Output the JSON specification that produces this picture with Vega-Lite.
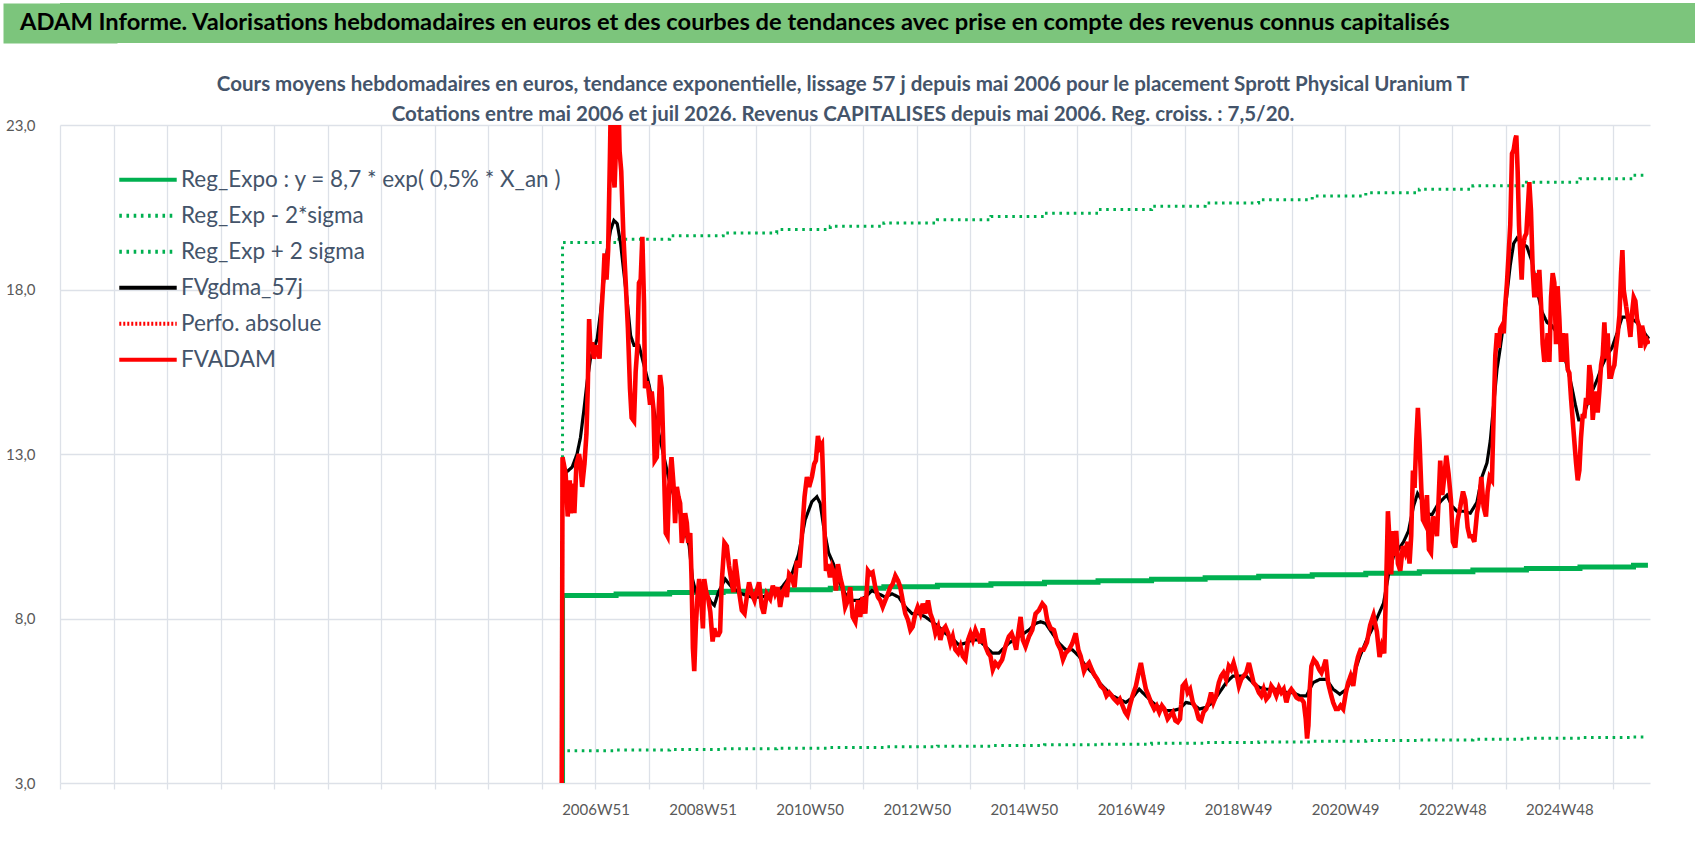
{
  "$schema": "https://vega.github.io/schema/vega-lite/v6.json",
  "background": "white",
  "padding": {"left": 3, "top": 3, "right": 3, "bottom": 3},
  "spacing": 31,
  "config": {
    "font": "Lato",
    "view": {"stroke": null},
    "axis": {
      "gridColor": "#DDE1E8",
      "gridWidth": 1.3,
      "labelColor": "#595959",
      "labelFontSize": 15,
      "domain": false,
      "title": null
    }
  },
  "datasets": {
    "regexpo": [
      {"series": "Reg_Expo : y = 8,7 * exp( 0,5% *  X_an )", "week": -33, "value": 0},
      {"series": "Reg_Expo : y = 8,7 * exp( 0,5% *  X_an )", "week": -32, "value": 8.70},
      {"series": "Reg_Expo : y = 8,7 * exp( 0,5% *  X_an )", "week": 20, "value": 8.744},
      {"series": "Reg_Expo : y = 8,7 * exp( 0,5% *  X_an )", "week": 72, "value": 8.788},
      {"series": "Reg_Expo : y = 8,7 * exp( 0,5% *  X_an )", "week": 124, "value": 8.832},
      {"series": "Reg_Expo : y = 8,7 * exp( 0,5% *  X_an )", "week": 176, "value": 8.876},
      {"series": "Reg_Expo : y = 8,7 * exp( 0,5% *  X_an )", "week": 228, "value": 8.920},
      {"series": "Reg_Expo : y = 8,7 * exp( 0,5% *  X_an )", "week": 280, "value": 8.965},
      {"series": "Reg_Expo : y = 8,7 * exp( 0,5% *  X_an )", "week": 332, "value": 9.010},
      {"series": "Reg_Expo : y = 8,7 * exp( 0,5% *  X_an )", "week": 384, "value": 9.055},
      {"series": "Reg_Expo : y = 8,7 * exp( 0,5% *  X_an )", "week": 436, "value": 9.100},
      {"series": "Reg_Expo : y = 8,7 * exp( 0,5% *  X_an )", "week": 488, "value": 9.146},
      {"series": "Reg_Expo : y = 8,7 * exp( 0,5% *  X_an )", "week": 540, "value": 9.192},
      {"series": "Reg_Expo : y = 8,7 * exp( 0,5% *  X_an )", "week": 592, "value": 9.238},
      {"series": "Reg_Expo : y = 8,7 * exp( 0,5% *  X_an )", "week": 644, "value": 9.284},
      {"series": "Reg_Expo : y = 8,7 * exp( 0,5% *  X_an )", "week": 696, "value": 9.331},
      {"series": "Reg_Expo : y = 8,7 * exp( 0,5% *  X_an )", "week": 748, "value": 9.377},
      {"series": "Reg_Expo : y = 8,7 * exp( 0,5% *  X_an )", "week": 800, "value": 9.424},
      {"series": "Reg_Expo : y = 8,7 * exp( 0,5% *  X_an )", "week": 852, "value": 9.472},
      {"series": "Reg_Expo : y = 8,7 * exp( 0,5% *  X_an )", "week": 904, "value": 9.519},
      {"series": "Reg_Expo : y = 8,7 * exp( 0,5% *  X_an )", "week": 956, "value": 9.567},
      {"series": "Reg_Expo : y = 8,7 * exp( 0,5% *  X_an )", "week": 1008, "value": 9.615},
      {"series": "Reg_Expo : y = 8,7 * exp( 0,5% *  X_an )", "week": 1022, "value": 9.615}
    ],
    "bands": [
      {"series": "Reg_Exp - 2*sigma", "week": -33, "value": 0},
      {"series": "Reg_Exp - 2*sigma", "week": -32, "value": 3.98},
      {"series": "Reg_Exp - 2*sigma", "week": 20, "value": 4.00},
      {"series": "Reg_Exp - 2*sigma", "week": 72, "value": 4.02},
      {"series": "Reg_Exp - 2*sigma", "week": 124, "value": 4.04},
      {"series": "Reg_Exp - 2*sigma", "week": 176, "value": 4.06},
      {"series": "Reg_Exp - 2*sigma", "week": 228, "value": 4.08},
      {"series": "Reg_Exp - 2*sigma", "week": 280, "value": 4.10},
      {"series": "Reg_Exp - 2*sigma", "week": 332, "value": 4.12},
      {"series": "Reg_Exp - 2*sigma", "week": 384, "value": 4.14},
      {"series": "Reg_Exp - 2*sigma", "week": 436, "value": 4.16},
      {"series": "Reg_Exp - 2*sigma", "week": 488, "value": 4.18},
      {"series": "Reg_Exp - 2*sigma", "week": 540, "value": 4.21},
      {"series": "Reg_Exp - 2*sigma", "week": 592, "value": 4.23},
      {"series": "Reg_Exp - 2*sigma", "week": 644, "value": 4.25},
      {"series": "Reg_Exp - 2*sigma", "week": 696, "value": 4.27},
      {"series": "Reg_Exp - 2*sigma", "week": 748, "value": 4.29},
      {"series": "Reg_Exp - 2*sigma", "week": 800, "value": 4.31},
      {"series": "Reg_Exp - 2*sigma", "week": 852, "value": 4.33},
      {"series": "Reg_Exp - 2*sigma", "week": 904, "value": 4.36},
      {"series": "Reg_Exp - 2*sigma", "week": 956, "value": 4.38},
      {"series": "Reg_Exp - 2*sigma", "week": 1008, "value": 4.40},
      {"series": "Reg_Exp - 2*sigma", "week": 1022, "value": 4.40},
      {"series": "Reg_Exp + 2 sigma", "week": -33, "value": 0},
      {"series": "Reg_Exp + 2 sigma", "week": -32, "value": 19.43},
      {"series": "Reg_Exp + 2 sigma", "week": 20, "value": 19.53},
      {"series": "Reg_Exp + 2 sigma", "week": 72, "value": 19.63},
      {"series": "Reg_Exp + 2 sigma", "week": 124, "value": 19.72},
      {"series": "Reg_Exp + 2 sigma", "week": 176, "value": 19.82},
      {"series": "Reg_Exp + 2 sigma", "week": 228, "value": 19.92},
      {"series": "Reg_Exp + 2 sigma", "week": 280, "value": 20.02},
      {"series": "Reg_Exp + 2 sigma", "week": 332, "value": 20.12},
      {"series": "Reg_Exp + 2 sigma", "week": 384, "value": 20.22},
      {"series": "Reg_Exp + 2 sigma", "week": 436, "value": 20.32},
      {"series": "Reg_Exp + 2 sigma", "week": 488, "value": 20.43},
      {"series": "Reg_Exp + 2 sigma", "week": 540, "value": 20.53},
      {"series": "Reg_Exp + 2 sigma", "week": 592, "value": 20.63},
      {"series": "Reg_Exp + 2 sigma", "week": 644, "value": 20.73},
      {"series": "Reg_Exp + 2 sigma", "week": 696, "value": 20.84},
      {"series": "Reg_Exp + 2 sigma", "week": 748, "value": 20.94},
      {"series": "Reg_Exp + 2 sigma", "week": 800, "value": 21.05},
      {"series": "Reg_Exp + 2 sigma", "week": 852, "value": 21.15},
      {"series": "Reg_Exp + 2 sigma", "week": 904, "value": 21.26},
      {"series": "Reg_Exp + 2 sigma", "week": 956, "value": 21.37},
      {"series": "Reg_Exp + 2 sigma", "week": 1008, "value": 21.47},
      {"series": "Reg_Exp + 2 sigma", "week": 1022, "value": 21.47}
    ],
    "gdma": [
      {"week": -30, "value": 12.4}, {"week": -22.7, "value": 12.6}, {"week": -17.9, "value": 13.0},
      {"week": -14.6, "value": 13.5}, {"week": -11.4, "value": 14.3}, {"week": -8.1, "value": 15.2},
      {"week": -4.9, "value": 15.9}, {"week": -1.6, "value": 16.2}, {"week": 1.6, "value": 16.5},
      {"week": 4.9, "value": 17.3}, {"week": 8.1, "value": 18.3}, {"week": 11.4, "value": 19.2},
      {"week": 14.6, "value": 19.8}, {"week": 17.9, "value": 20.1}, {"week": 21.1, "value": 20.0},
      {"week": 24.4, "value": 19.4}, {"week": 27.6, "value": 18.5}, {"week": 30.9, "value": 17.6},
      {"week": 34.1, "value": 16.6}, {"week": 37.4, "value": 16.3}, {"week": 42.2, "value": 16.3},
      {"week": 47.1, "value": 15.7}, {"week": 52, "value": 15.1}, {"week": 56.9, "value": 14.3},
      {"week": 61.7, "value": 13.6}, {"week": 66.6, "value": 12.9}, {"week": 71.5, "value": 12.2},
      {"week": 76.4, "value": 11.7}, {"week": 81.2, "value": 11.3}, {"week": 86.1, "value": 10.8},
      {"week": 91, "value": 10.2}, {"week": 94.2, "value": 9.2}, {"week": 97.5, "value": 8.8},
      {"week": 102.4, "value": 8.7}, {"week": 107.2, "value": 8.8}, {"week": 112.1, "value": 8.5},
      {"week": 115.4, "value": 8.4}, {"week": 119.4, "value": 8.8}, {"week": 125.9, "value": 9.2},
      {"week": 132.3, "value": 8.95}, {"week": 142, "value": 8.75}, {"week": 151.8, "value": 8.65},
      {"week": 161.5, "value": 8.65}, {"week": 171.2, "value": 8.75}, {"week": 181, "value": 8.95},
      {"week": 190.7, "value": 9.35}, {"week": 197.2, "value": 9.95}, {"week": 203.6, "value": 11.0},
      {"week": 210.1, "value": 11.55}, {"week": 215, "value": 11.7}, {"week": 218.2, "value": 11.5},
      {"week": 221.5, "value": 10.8}, {"week": 226.3, "value": 10.0}, {"week": 231.2, "value": 9.65},
      {"week": 236.1, "value": 9.15}, {"week": 242.5, "value": 8.75}, {"week": 249, "value": 8.55},
      {"week": 255.5, "value": 8.55}, {"week": 262, "value": 8.65}, {"week": 268.5, "value": 8.85},
      {"week": 275, "value": 8.75}, {"week": 281.4, "value": 8.65}, {"week": 287.9, "value": 8.75},
      {"week": 294.4, "value": 8.65}, {"week": 300.9, "value": 8.35}, {"week": 307.4, "value": 8.15},
      {"week": 313.8, "value": 8.15}, {"week": 320.3, "value": 8.05}, {"week": 326.8, "value": 7.9},
      {"week": 333.3, "value": 7.75}, {"week": 339.8, "value": 7.55}, {"week": 346.3, "value": 7.4},
      {"week": 352.8, "value": 7.2}, {"week": 359.2, "value": 7.25}, {"week": 365.7, "value": 7.35},
      {"week": 372.2, "value": 7.35}, {"week": 378.7, "value": 7.15}, {"week": 385.2, "value": 6.95},
      {"week": 391.7, "value": 6.95}, {"week": 401.4, "value": 7.25}, {"week": 411.1, "value": 7.45},
      {"week": 420.9, "value": 7.65}, {"week": 427.4, "value": 7.85}, {"week": 432.2, "value": 7.9},
      {"week": 437.1, "value": 7.85}, {"week": 443.6, "value": 7.55}, {"week": 450.1, "value": 7.25},
      {"week": 456.6, "value": 7.05}, {"week": 463.1, "value": 7.05}, {"week": 469.6, "value": 6.85},
      {"week": 476.1, "value": 6.55}, {"week": 482.6, "value": 6.35}, {"week": 489.1, "value": 6.05},
      {"week": 495.5, "value": 5.85}, {"week": 502, "value": 5.65}, {"week": 508.5, "value": 5.55},
      {"week": 515, "value": 5.45}, {"week": 521.5, "value": 5.6}, {"week": 528, "value": 5.85},
      {"week": 534.5, "value": 5.65}, {"week": 541, "value": 5.45}, {"week": 547.5, "value": 5.3},
      {"week": 554, "value": 5.2}, {"week": 560.5, "value": 5.2}, {"week": 567, "value": 5.25},
      {"week": 573.5, "value": 5.45}, {"week": 580, "value": 5.4}, {"week": 586.5, "value": 5.25},
      {"week": 593, "value": 5.3}, {"week": 599.4, "value": 5.45}, {"week": 605.9, "value": 5.75},
      {"week": 612.4, "value": 6.05}, {"week": 618.9, "value": 6.25}, {"week": 625.4, "value": 6.25},
      {"week": 631.9, "value": 6.25}, {"week": 638.4, "value": 6.05}, {"week": 644.9, "value": 5.9},
      {"week": 651.4, "value": 5.85}, {"week": 657.9, "value": 5.85}, {"week": 664.4, "value": 5.85},
      {"week": 670.9, "value": 5.75}, {"week": 677.4, "value": 5.75}, {"week": 683.9, "value": 5.65},
      {"week": 690.4, "value": 5.65}, {"week": 696.8, "value": 6.05}, {"week": 703.3, "value": 6.15},
      {"week": 709.8, "value": 6.15}, {"week": 716.3, "value": 5.85}, {"week": 722.8, "value": 5.7},
      {"week": 729.3, "value": 5.85}, {"week": 735.8, "value": 6.25}, {"week": 742.3, "value": 6.85},
      {"week": 748.8, "value": 7.35}, {"week": 755.3, "value": 7.75}, {"week": 765.3, "value": 8.47},
      {"week": 770.1, "value": 9.34}, {"week": 775, "value": 9.9}, {"week": 779.8, "value": 10.1},
      {"week": 784.7, "value": 10.33}, {"week": 789.5, "value": 10.66}, {"week": 794.4, "value": 11.42},
      {"week": 798.3, "value": 11.8}, {"week": 802.5, "value": 11.6}, {"week": 807.4, "value": 11.2},
      {"week": 812.2, "value": 11.15}, {"week": 817.1, "value": 11.42}, {"week": 821.9, "value": 11.6},
      {"week": 826.8, "value": 11.75}, {"week": 831.7, "value": 11.42}, {"week": 836.5, "value": 11.26},
      {"week": 843, "value": 11.26}, {"week": 849.5, "value": 11.2}, {"week": 855.9, "value": 11.53},
      {"week": 860.8, "value": 12.3}, {"week": 865.7, "value": 12.73}, {"week": 868.9, "value": 13.4},
      {"week": 872.2, "value": 14.5}, {"week": 875.4, "value": 15.57}, {"week": 878.6, "value": 16.23},
      {"week": 881.9, "value": 17.0}, {"week": 885.1, "value": 17.87}, {"week": 888.3, "value": 18.74},
      {"week": 891.6, "value": 19.4}, {"week": 894.8, "value": 19.56}, {"week": 899.7, "value": 19.4},
      {"week": 904.5, "value": 19.3}, {"week": 909.4, "value": 18.85}, {"week": 914.3, "value": 17.98},
      {"week": 919.1, "value": 17.32}, {"week": 924, "value": 17.0}, {"week": 928.8, "value": 16.9},
      {"week": 933.7, "value": 16.67}, {"week": 938.6, "value": 16.23}, {"week": 943.4, "value": 15.68},
      {"week": 948.3, "value": 15.0}, {"week": 951.5, "value": 14.5}, {"week": 954.8, "value": 14.04},
      {"week": 958, "value": 14.04}, {"week": 962.9, "value": 14.5}, {"week": 967.7, "value": 14.9},
      {"week": 972.6, "value": 15.25}, {"week": 977.4, "value": 15.68}, {"week": 982.3, "value": 16.0},
      {"week": 987.1, "value": 16.23}, {"week": 992, "value": 16.67}, {"week": 996.9, "value": 17.16},
      {"week": 1001.7, "value": 17.16}, {"week": 1006.6, "value": 17.1}, {"week": 1011.4, "value": 17.0},
      {"week": 1016.3, "value": 16.78}, {"week": 1022.8, "value": 16.5}
    ],
    "fvadam": [
      {"week": -33, "value": 0}, {"week": -32, "value": 12.9}, {"week": -29, "value": 12.4},
      {"week": -27, "value": 11.1}, {"week": -25, "value": 12.2}, {"week": -24, "value": 11.2},
      {"week": -22, "value": 12.1}, {"week": -20.5, "value": 11.2}, {"week": -18.5, "value": 12.7},
      {"week": -16, "value": 13.0}, {"week": -14.6, "value": 12.7}, {"week": -13, "value": 12.0},
      {"week": -10.7, "value": 12.7}, {"week": -8.8, "value": 13.6}, {"week": -7.5, "value": 15.0},
      {"week": -6.2, "value": 17.1}, {"week": -4.9, "value": 16.2}, {"week": -3.2, "value": 16.4},
      {"week": -1.6, "value": 15.9}, {"week": 1.6, "value": 16.3}, {"week": 3.9, "value": 15.9},
      {"week": 5.8, "value": 17.3}, {"week": 7.5, "value": 18.2}, {"week": 8.8, "value": 19.1},
      {"week": 10.7, "value": 18.3}, {"week": 12.3, "value": 19.2}, {"week": 14.0, "value": 22.0},
      {"week": 15.3, "value": 24.5}, {"week": 16.9, "value": 21.8}, {"week": 18.5, "value": 21.1},
      {"week": 20.1, "value": 22.5}, {"week": 21.8, "value": 24.5}, {"week": 23.4, "value": 22.2},
      {"week": 25.0, "value": 21.6}, {"week": 27.0, "value": 19.7}, {"week": 29.2, "value": 18.3},
      {"week": 31.5, "value": 16.8}, {"week": 33.5, "value": 15.0}, {"week": 35.1, "value": 14.1},
      {"week": 37.4, "value": 14.0}, {"week": 39.0, "value": 15.5}, {"week": 40.6, "value": 16.2},
      {"week": 42.2, "value": 18.2}, {"week": 43.9, "value": 18.3}, {"week": 45.5, "value": 19.6},
      {"week": 47.1, "value": 17.6}, {"week": 48.1, "value": 15.0}, {"week": 49.7, "value": 15.2},
      {"week": 51.3, "value": 15.0}, {"week": 53.0, "value": 14.5}, {"week": 54.6, "value": 14.9},
      {"week": 56.2, "value": 14.4}, {"week": 57.5, "value": 12.8}, {"week": 59.5, "value": 12.9},
      {"week": 61.1, "value": 14.1}, {"week": 62.7, "value": 15.4}, {"week": 64.3, "value": 15.0},
      {"week": 66.0, "value": 13.1}, {"week": 68.2, "value": 10.6}, {"week": 69.9, "value": 10.5},
      {"week": 71.5, "value": 12.0}, {"week": 73.8, "value": 12.9}, {"week": 75.7, "value": 12.1},
      {"week": 77.3, "value": 10.9}, {"week": 79.0, "value": 12.0}, {"week": 80.6, "value": 11.7},
      {"week": 82.2, "value": 11.5}, {"week": 83.8, "value": 10.3}, {"week": 85.5, "value": 10.6},
      {"week": 87.1, "value": 11.2}, {"week": 88.7, "value": 10.9}, {"week": 90.0, "value": 10.3},
      {"week": 92.0, "value": 10.6}, {"week": 93.3, "value": 9.2}, {"week": 94.6, "value": 7.1},
      {"week": 95.9, "value": 6.4}, {"week": 97.5, "value": 7.8}, {"week": 99.1, "value": 8.7},
      {"week": 100.7, "value": 9.2}, {"week": 102.4, "value": 8.7}, {"week": 104.3, "value": 7.7},
      {"week": 105.6, "value": 9.2}, {"week": 107.6, "value": 8.8}, {"week": 109.5, "value": 8.6},
      {"week": 111.5, "value": 8.2}, {"week": 113.7, "value": 7.3}, {"week": 115.4, "value": 7.7},
      {"week": 117.0, "value": 7.5}, {"week": 119.4, "value": 7.5}, {"week": 121, "value": 7.6},
      {"week": 122.6, "value": 9.1}, {"week": 125.2, "value": 10.3}, {"week": 127.5, "value": 10.2},
      {"week": 129.7, "value": 9.6}, {"week": 131.7, "value": 9.2}, {"week": 134, "value": 8.8},
      {"week": 135.6, "value": 9.8}, {"week": 137.2, "value": 9.4}, {"week": 139.5, "value": 8.8},
      {"week": 142.1, "value": 8.25}, {"week": 144.7, "value": 8.15}, {"week": 146.9, "value": 8.65},
      {"week": 149.2, "value": 9.1}, {"week": 151.8, "value": 8.75}, {"week": 154.4, "value": 8.55},
      {"week": 156.6, "value": 8.85}, {"week": 158.9, "value": 9.1}, {"week": 161.5, "value": 8.35},
      {"week": 163.5, "value": 8.15}, {"week": 166.4, "value": 8.75}, {"week": 169.6, "value": 8.6},
      {"week": 172.2, "value": 9.0}, {"week": 174.5, "value": 8.75}, {"week": 177.1, "value": 8.95},
      {"week": 179.3, "value": 8.35}, {"week": 181.6, "value": 8.8}, {"week": 184.2, "value": 8.95},
      {"week": 185.8, "value": 8.65}, {"week": 188.1, "value": 9.35}, {"week": 190.7, "value": 9.25},
      {"week": 193.3, "value": 8.95}, {"week": 195.5, "value": 9.75}, {"week": 198.1, "value": 9.55},
      {"week": 200.4, "value": 10.5}, {"week": 203, "value": 11.7}, {"week": 205.3, "value": 12.3},
      {"week": 207.5, "value": 12.0}, {"week": 210.1, "value": 12.3}, {"week": 212.4, "value": 12.7},
      {"week": 214, "value": 12.8}, {"week": 216, "value": 13.55}, {"week": 217.9, "value": 13.2},
      {"week": 219.9, "value": 13.3}, {"week": 221.2, "value": 12.1}, {"week": 222.5, "value": 10.6},
      {"week": 223.8, "value": 9.45}, {"week": 225.7, "value": 9.65}, {"week": 227.7, "value": 9.25},
      {"week": 229.6, "value": 9.55}, {"week": 231.9, "value": 9.35}, {"week": 233.5, "value": 8.85},
      {"week": 235.4, "value": 9.65}, {"week": 237.7, "value": 9.25}, {"week": 240, "value": 8.95},
      {"week": 242.5, "value": 8.35}, {"week": 245.1, "value": 8.55}, {"week": 247.4, "value": 8.95},
      {"week": 249.7, "value": 8.05}, {"week": 252.3, "value": 7.9}, {"week": 254.9, "value": 8.55},
      {"week": 257.1, "value": 8.05}, {"week": 259.4, "value": 8.65}, {"week": 262, "value": 8.15},
      {"week": 264.6, "value": 9.45}, {"week": 266.9, "value": 9.35}, {"week": 269.1, "value": 9.4},
      {"week": 271.7, "value": 8.95}, {"week": 274.3, "value": 8.65}, {"week": 276.6, "value": 8.55},
      {"week": 278.9, "value": 8.35}, {"week": 281.4, "value": 8.55}, {"week": 284, "value": 8.75},
      {"week": 286.3, "value": 8.95}, {"week": 288.6, "value": 9.05}, {"week": 291.2, "value": 9.3},
      {"week": 293.8, "value": 9.15}, {"week": 296, "value": 8.95}, {"week": 298.3, "value": 8.55},
      {"week": 300.9, "value": 8.15}, {"week": 303.5, "value": 7.95}, {"week": 305.8, "value": 7.65},
      {"week": 308, "value": 7.75}, {"week": 310.6, "value": 8.15}, {"week": 312.9, "value": 8.35},
      {"week": 315.5, "value": 8.15}, {"week": 317.8, "value": 8.45}, {"week": 320.3, "value": 8.15},
      {"week": 322.9, "value": 8.55}, {"week": 325.2, "value": 8.15}, {"week": 327.5, "value": 7.95},
      {"week": 330.1, "value": 7.55}, {"week": 332.7, "value": 7.75}, {"week": 334.9, "value": 7.35},
      {"week": 337.2, "value": 7.65}, {"week": 339.8, "value": 7.75}, {"week": 342.4, "value": 7.55},
      {"week": 344.7, "value": 7.25}, {"week": 346.9, "value": 7.45}, {"week": 349.5, "value": 7.05},
      {"week": 352.1, "value": 6.95}, {"week": 354.4, "value": 7.15}, {"week": 356.7, "value": 6.85},
      {"week": 359.2, "value": 6.75}, {"week": 361.8, "value": 7.35}, {"week": 364.1, "value": 7.55},
      {"week": 366.4, "value": 7.35}, {"week": 369, "value": 7.65}, {"week": 371.6, "value": 7.45},
      {"week": 373.8, "value": 7.25}, {"week": 376.1, "value": 7.7}, {"week": 378.7, "value": 7.15},
      {"week": 381.3, "value": 6.95}, {"week": 383.6, "value": 6.85}, {"week": 385.8, "value": 6.45},
      {"week": 388.4, "value": 6.65}, {"week": 391, "value": 6.55}, {"week": 394.9, "value": 6.75},
      {"week": 398.1, "value": 7.15}, {"week": 401.4, "value": 7.45}, {"week": 404, "value": 7.55},
      {"week": 406.3, "value": 7.35}, {"week": 408.5, "value": 7.05}, {"week": 410.5, "value": 7.55},
      {"week": 412.8, "value": 8.05}, {"week": 415, "value": 7.35}, {"week": 417.6, "value": 7.15},
      {"week": 420.9, "value": 7.45}, {"week": 424.1, "value": 7.65}, {"week": 427.4, "value": 8.15},
      {"week": 430.6, "value": 8.25}, {"week": 433.9, "value": 8.45}, {"week": 436.5, "value": 8.35},
      {"week": 438.7, "value": 7.95}, {"week": 442, "value": 7.7}, {"week": 445.2, "value": 7.65},
      {"week": 448.5, "value": 7.25}, {"week": 451.7, "value": 7.05}, {"week": 454, "value": 6.75},
      {"week": 456.6, "value": 6.95}, {"week": 459.8, "value": 7.05}, {"week": 463.1, "value": 7.25},
      {"week": 466.3, "value": 7.55}, {"week": 468.9, "value": 7.05}, {"week": 471.2, "value": 6.85},
      {"week": 474.4, "value": 6.4}, {"week": 476.7, "value": 6.55}, {"week": 479.3, "value": 6.65},
      {"week": 481.9, "value": 6.45}, {"week": 484.2, "value": 6.3}, {"week": 487.4, "value": 6.15},
      {"week": 490.6, "value": 5.95}, {"week": 493.9, "value": 5.85}, {"week": 496.2, "value": 5.65},
      {"week": 498.8, "value": 5.75}, {"week": 501.4, "value": 5.65}, {"week": 503.7, "value": 5.55},
      {"week": 506.9, "value": 5.45}, {"week": 509.2, "value": 5.55}, {"week": 511.8, "value": 5.35},
      {"week": 514.4, "value": 5.15}, {"week": 516.6, "value": 5.05}, {"week": 518.9, "value": 5.35},
      {"week": 521.5, "value": 5.65}, {"week": 524.8, "value": 5.95}, {"week": 527.4, "value": 6.35},
      {"week": 529.6, "value": 6.65}, {"week": 531.9, "value": 6.25}, {"week": 534.5, "value": 5.85},
      {"week": 537.1, "value": 5.65}, {"week": 539.4, "value": 5.45}, {"week": 542.6, "value": 5.25},
      {"week": 544.9, "value": 5.35}, {"week": 547.5, "value": 5.15}, {"week": 550.1, "value": 5.35},
      {"week": 552.4, "value": 5.25}, {"week": 555.6, "value": 4.95}, {"week": 557.9, "value": 5.05},
      {"week": 560.5, "value": 5.15}, {"week": 563.1, "value": 4.9}, {"week": 565.4, "value": 4.85},
      {"week": 567.6, "value": 4.95}, {"week": 570.2, "value": 5.95}, {"week": 572.8, "value": 6.05},
      {"week": 575.1, "value": 5.75}, {"week": 577.4, "value": 5.85}, {"week": 580, "value": 5.45},
      {"week": 583.2, "value": 5.25}, {"week": 585.8, "value": 4.95}, {"week": 588.1, "value": 4.9},
      {"week": 590.4, "value": 5.15}, {"week": 593, "value": 5.25}, {"week": 595.5, "value": 5.45},
      {"week": 597.8, "value": 5.75}, {"week": 600.1, "value": 5.45}, {"week": 602.7, "value": 5.65},
      {"week": 605.3, "value": 6.05}, {"week": 607.6, "value": 6.25}, {"week": 609.8, "value": 6.35},
      {"week": 612.4, "value": 6.15}, {"week": 615, "value": 6.55}, {"week": 617.3, "value": 6.45},
      {"week": 619.6, "value": 6.65}, {"week": 622.2, "value": 6.35}, {"week": 624.8, "value": 5.95},
      {"week": 627, "value": 6.15}, {"week": 629.3, "value": 6.25}, {"week": 631.9, "value": 6.35},
      {"week": 634.5, "value": 6.65}, {"week": 636.8, "value": 6.35}, {"week": 639, "value": 6.05},
      {"week": 641.6, "value": 5.95}, {"week": 644.2, "value": 5.75}, {"week": 646.5, "value": 5.65},
      {"week": 648.8, "value": 5.85}, {"week": 651.4, "value": 5.55}, {"week": 654, "value": 5.65},
      {"week": 656.3, "value": 5.95}, {"week": 658.5, "value": 5.85}, {"week": 661.1, "value": 5.65},
      {"week": 663.7, "value": 5.9}, {"week": 666, "value": 5.75}, {"week": 668.3, "value": 5.85},
      {"week": 670.9, "value": 5.45}, {"week": 673.5, "value": 5.75}, {"week": 675.7, "value": 5.85},
      {"week": 678, "value": 5.75}, {"week": 680.6, "value": 5.6}, {"week": 683.2, "value": 5.55},
      {"week": 685.5, "value": 5.55}, {"week": 687.8, "value": 5.45}, {"week": 689.7, "value": 4.95},
      {"week": 691, "value": 4.35}, {"week": 692.3, "value": 4.75}, {"week": 693.6, "value": 5.85},
      {"week": 695.2, "value": 6.55}, {"week": 697.5, "value": 6.75}, {"week": 700.1, "value": 6.65},
      {"week": 702.7, "value": 6.45}, {"week": 704.9, "value": 6.35}, {"week": 707.2, "value": 6.55},
      {"week": 709.2, "value": 6.75}, {"week": 711.4, "value": 6.05}, {"week": 713.7, "value": 5.75},
      {"week": 716.3, "value": 5.45}, {"week": 718.9, "value": 5.25}, {"week": 721.2, "value": 5.25},
      {"week": 723.5, "value": 5.35}, {"week": 726, "value": 5.25}, {"week": 728.7, "value": 5.75},
      {"week": 730.9, "value": 6.05}, {"week": 733.2, "value": 6.25}, {"week": 735.8, "value": 5.95},
      {"week": 738.4, "value": 6.55}, {"week": 740.6, "value": 6.85}, {"week": 742.9, "value": 7.05},
      {"week": 745.8, "value": 7.05}, {"week": 749.1, "value": 7.27}, {"week": 752.3, "value": 7.8},
      {"week": 755.5, "value": 8.1}, {"week": 758.8, "value": 7.6}, {"week": 761.4, "value": 6.83},
      {"week": 763.6, "value": 7.16}, {"week": 765.9, "value": 6.94}, {"week": 767.8, "value": 9.0},
      {"week": 769.5, "value": 11.26}, {"week": 771.1, "value": 10.33}, {"week": 772.7, "value": 9.34},
      {"week": 774.3, "value": 10.66}, {"week": 775.9, "value": 9.9}, {"week": 777.6, "value": 10.66},
      {"week": 779.2, "value": 9.67}, {"week": 781.5, "value": 9.45}, {"week": 784, "value": 10.2},
      {"week": 786.3, "value": 10.0}, {"week": 788.6, "value": 10.33}, {"week": 790.5, "value": 9.67},
      {"week": 792.1, "value": 10.5}, {"week": 793.8, "value": 12.5}, {"week": 795.4, "value": 11.97},
      {"week": 797, "value": 13.4}, {"week": 798.6, "value": 14.4}, {"week": 800.2, "value": 13.4},
      {"week": 801.9, "value": 11.97}, {"week": 803.5, "value": 11.0}, {"week": 805.1, "value": 10.9},
      {"week": 807.4, "value": 11.75}, {"week": 809.3, "value": 10.1}, {"week": 811.3, "value": 10.0},
      {"week": 813.2, "value": 11.1}, {"week": 815.5, "value": 10.9}, {"week": 817.1, "value": 10.5},
      {"week": 818.7, "value": 11.6}, {"week": 820.3, "value": 12.8}, {"week": 822.3, "value": 11.75},
      {"week": 824.2, "value": 12.3}, {"week": 826.2, "value": 12.95}, {"week": 828.4, "value": 12.4},
      {"week": 830.7, "value": 11.6}, {"week": 832.6, "value": 10.33}, {"week": 834.9, "value": 10.16},
      {"week": 837.2, "value": 11.0}, {"week": 839.8, "value": 11.4}, {"week": 842.4, "value": 11.86},
      {"week": 844.6, "value": 11.6}, {"week": 846.9, "value": 10.77}, {"week": 848.8, "value": 10.5},
      {"week": 851.1, "value": 10.5}, {"week": 853.4, "value": 10.33}, {"week": 856, "value": 11.2},
      {"week": 858.2, "value": 11.6}, {"week": 860.2, "value": 12.3}, {"week": 862.4, "value": 11.4},
      {"week": 864.7, "value": 11.1}, {"week": 866.3, "value": 11.86}, {"week": 868.3, "value": 12.3},
      {"week": 870.5, "value": 12.2}, {"week": 872.2, "value": 14.26}, {"week": 873.8, "value": 16.0},
      {"week": 875.4, "value": 16.67}, {"week": 877, "value": 16.23}, {"week": 878.6, "value": 16.8},
      {"week": 880.3, "value": 16.9}, {"week": 881.9, "value": 16.67}, {"week": 883.5, "value": 17.54},
      {"week": 885.1, "value": 18.2}, {"week": 886.7, "value": 19.07}, {"week": 888.3, "value": 19.95},
      {"week": 890, "value": 22.13}, {"week": 891.6, "value": 22.24}, {"week": 893.2, "value": 22.57},
      {"week": 894.2, "value": 22.68}, {"week": 895.5, "value": 21.58}, {"week": 896.8, "value": 19.95},
      {"week": 898.1, "value": 19.07}, {"week": 899.4, "value": 18.3}, {"week": 900.7, "value": 19.3},
      {"week": 902.3, "value": 19.6}, {"week": 903.9, "value": 19.7}, {"week": 905.2, "value": 20.4},
      {"week": 906.8, "value": 21.26}, {"week": 908.4, "value": 20.4}, {"week": 910.1, "value": 18.6},
      {"week": 911.7, "value": 17.76}, {"week": 913.3, "value": 18.5}, {"week": 914.9, "value": 17.76},
      {"week": 916.5, "value": 18.6}, {"week": 918.2, "value": 17.54}, {"week": 919.8, "value": 16.34},
      {"week": 921.4, "value": 15.8}, {"week": 923.3, "value": 16.1}, {"week": 924.6, "value": 16.67},
      {"week": 926.3, "value": 15.8}, {"week": 927.9, "value": 17.76}, {"week": 929.5, "value": 18.5},
      {"week": 931.1, "value": 18.2}, {"week": 932.7, "value": 16.34}, {"week": 934.3, "value": 18.1},
      {"week": 936, "value": 17.1}, {"week": 937.6, "value": 15.8}, {"week": 939.2, "value": 16.67},
      {"week": 940.8, "value": 15.8}, {"week": 942.4, "value": 16.67}, {"week": 944.1, "value": 15.57},
      {"week": 945.7, "value": 15.46}, {"week": 947.3, "value": 14.7}, {"week": 948.9, "value": 14.04},
      {"week": 950.5, "value": 13.4}, {"week": 952.2, "value": 12.73}, {"week": 953.8, "value": 12.2},
      {"week": 955.4, "value": 12.5}, {"week": 957, "value": 13.5}, {"week": 958.6, "value": 14.15},
      {"week": 960.3, "value": 14.15}, {"week": 961.9, "value": 14.7}, {"week": 963.5, "value": 14.5},
      {"week": 965.1, "value": 15.7}, {"week": 966.7, "value": 15.35}, {"week": 968.4, "value": 14.04},
      {"week": 970, "value": 14.6}, {"week": 971.6, "value": 14.9}, {"week": 973.2, "value": 14.26},
      {"week": 974.8, "value": 14.9}, {"week": 976.5, "value": 15.7}, {"week": 978.1, "value": 16.0},
      {"week": 979.7, "value": 17.0}, {"week": 981.3, "value": 15.9}, {"week": 982.9, "value": 16.67},
      {"week": 984.6, "value": 15.35}, {"week": 986.2, "value": 15.35}, {"week": 987.8, "value": 15.57},
      {"week": 989.4, "value": 15.7}, {"week": 991, "value": 16.23}, {"week": 992.7, "value": 16.67},
      {"week": 994.3, "value": 17.2}, {"week": 995.9, "value": 18.5}, {"week": 997.2, "value": 19.2},
      {"week": 998.5, "value": 17.98}, {"week": 1000.1, "value": 17.65}, {"week": 1001.7, "value": 17.3},
      {"week": 1003.3, "value": 17.0}, {"week": 1005, "value": 16.56}, {"week": 1006.6, "value": 17.3},
      {"week": 1008.2, "value": 17.76}, {"week": 1009.8, "value": 17.65}, {"week": 1011.4, "value": 17.1},
      {"week": 1013.1, "value": 16.9}, {"week": 1014.7, "value": 16.23}, {"week": 1016.3, "value": 16.9},
      {"week": 1017.9, "value": 16.67}, {"week": 1019.5, "value": 16.34}, {"week": 1021.2, "value": 16.45},
      {"week": 1022.8, "value": 16.34}
    ]
  },
  "vconcat": [
    {
      "width": 1635,
      "height": 40,
      "view": {"fill": "#7CC57C", "stroke": null},
      "data": {"values": [{"t": "ADAM Informe. Valorisations hebdomadaires en euros et des courbes de tendances avec prise en compte des revenus connus capitalisés"}]},
      "mark": {"type": "text", "align": "left", "baseline": "middle", "dx": -40, "font": "Lato", "fontSize": 23.7, "fontWeight": "bold", "color": "#000000"},
      "encoding": {
        "x": {"datum": 0, "type": "quantitative", "scale": {"domain": [0, 1]}, "axis": null},
        "y": {
          "datum": 0.5,
          "type": "quantitative",
          "scale": {"domain": [0, 1]},
          "axis": {
            "orient": "left",
            "domain": true,
            "domainColor": "#7CC57C",
            "domainWidth": 114,
            "domainCap": "butt",
            "offset": 0,
            "labels": false,
            "ticks": false,
            "grid": false,
            "minExtent": 57,
            "maxExtent": 57
          }
        },
        "text": {"field": "t"}
      }
    },
    {
      "width": 1590,
      "height": 658,
      "title": {
        "text": [
          "Cours moyens hebdomadaires en euros, tendance exponentielle, lissage 57 j depuis mai 2006 pour le placement Sprott Physical Uranium T",
          "Cotations entre mai 2006 et juil 2026. Revenus CAPITALISES depuis mai 2006. Reg. croiss. : 7,5/20."
        ],
        "anchor": "middle",
        "frame": "group",
        "dx": -12,
        "offset": -7,
        "lineHeight": 30,
        "font": "Lato",
        "fontSize": 20.5,
        "fontWeight": "bold",
        "color": "#44546A"
      },
      "encoding": {
        "x": {
          "field": "week",
          "type": "quantitative",
          "scale": {"domain": [-520, 1024], "nice": false, "zero": false},
          "axis": {
            "values": [-520, -468, -416, -364, -312, -260, -208, -156, -104, -52, 0, 52, 104, 156, 208, 260, 312, 364, 416, 468, 520, 572, 624, 676, 728, 780, 832, 884, 936, 988],
            "labelExpr": "datum.value >= 0 && datum.value % 104 == 0 ? ['2006W51','2008W51','2010W50','2012W50','2014W50','2016W49','2018W49','2020W49','2022W48','2024W48'][datum.value / 104] : ''",
            "labelOverlap": false,
            "labelFlush": false,
            "tickSize": 6,
            "tickColor": "#DDE1E8",
            "tickWidth": 1.3,
            "labelPadding": 13
          }
        },
        "y": {
          "field": "value",
          "type": "quantitative",
          "scale": {"domain": [3, 23], "nice": false, "zero": false},
          "axis": {
            "values": [3, 8, 13, 18, 23],
            "labelExpr": "replace(format(datum.value, '.1f'), '.', ',')",
            "ticks": false,
            "labelPadding": 25,
            "minExtent": 57
          }
        }
      },
      "layer": [
        {
          "data": {"name": "regexpo"},
          "mark": {"type": "line", "interpolate": "step-after", "clip": true, "strokeWidth": 5},
          "encoding": {
            "color": {
              "field": "series",
              "type": "nominal",
              "scale": {
                "domain": ["Reg_Expo : y = 8,7 * exp( 0,5% *  X_an )", "Reg_Exp - 2*sigma", "Reg_Exp + 2 sigma", "FVgdma_57j", "Perfo. absolue", "FVADAM"],
                "range": ["#00B050", "#00B050", "#00B050", "#000000", "#FF0000", "#FF0000"]
              },
              "legend": {
                "title": null,
                "orient": "none",
                "legendX": 57,
                "legendY": 159,
                "symbolType": "stroke",
                "symbolSize": 3300,
                "clipHeight": 35.7,
                "rowPadding": 0,
                "labelFontSize": 22.5,
                "labelColor": "#44546A",
                "labelOffset": 2,
                "labelLimit": 700,
                "symbolStrokeWidth": 4
              }
            },
            "strokeDash": {
              "field": "series",
              "type": "nominal",
              "scale": {
                "domain": ["Reg_Expo : y = 8,7 * exp( 0,5% *  X_an )", "Reg_Exp - 2*sigma", "Reg_Exp + 2 sigma", "FVgdma_57j", "Perfo. absolue", "FVADAM"],
                "range": [[1, 0], [2.6, 4.6], [2.6, 4.6], [1, 0], [2, 2], [1, 0]]
              },
              "legend": {"title": null}
            }
          }
        },
        {
          "data": {"name": "bands"},
          "mark": {"type": "line", "interpolate": "step-after", "clip": true, "strokeWidth": 3},
          "encoding": {
            "color": {"field": "series", "type": "nominal"},
            "strokeDash": {"field": "series", "type": "nominal"}
          }
        },
        {
          "data": {"name": "gdma"},
          "mark": {"type": "line", "clip": true, "strokeWidth": 3.2},
          "encoding": {
            "color": {"datum": "FVgdma_57j", "type": "nominal"},
            "strokeDash": {"datum": "FVgdma_57j", "type": "nominal"}
          }
        },
        {
          "data": {"name": "fvadam"},
          "mark": {"type": "line", "clip": true, "strokeWidth": 4.6},
          "encoding": {
            "color": {"datum": "FVADAM", "type": "nominal"},
            "strokeDash": {"datum": "FVADAM", "type": "nominal"}
          }
        }
      ]
    }
  ]
}
